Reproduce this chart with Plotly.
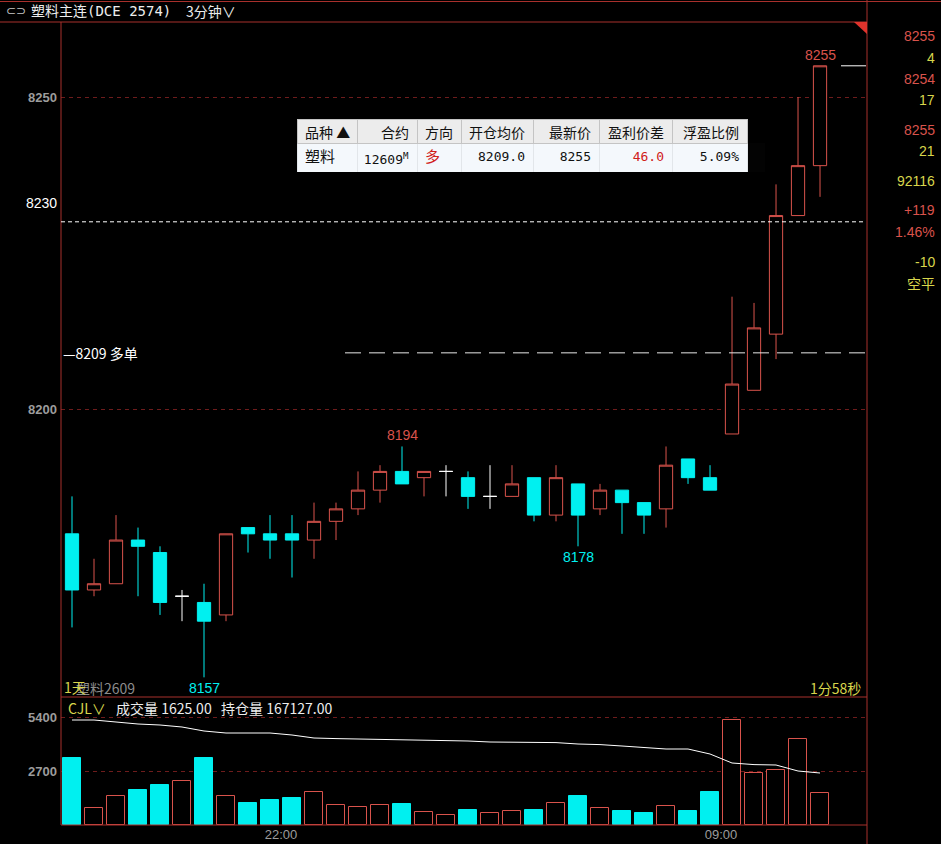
import plotly.graph_objects as go

W, H = 941, 844

# ---------------- data ----------------
bar_times = ["21:30", "21:33", "21:36", "21:39", "21:42", "21:45", "21:48", "21:51", "21:54", "21:57",
             "22:00", "22:03", "22:06", "22:09", "22:12", "22:15", "22:18", "22:21", "22:24", "22:27",
             "22:30", "22:33", "22:36", "22:39", "22:42", "22:45", "22:48", "22:51", "22:54", "22:57",
             "09:00", "09:03", "09:06", "09:09", "09:12"]
open_ = [8180, 8171, 8172, 8179, 8177, 8170, 8169, 8167, 8181, 8180, 8180, 8179, 8182, 8184, 8187,
         8190, 8189, 8190, 8189, 8186, 8186, 8189, 8183, 8188, 8184, 8187, 8185, 8184, 8192, 8189,
         8196, 8203, 8212, 8231, 8239]
high = [8186, 8176, 8183, 8181, 8178, 8171, 8172, 8180, 8181, 8183, 8183, 8185, 8185, 8190, 8191,
        8194, 8190, 8191, 8190, 8191, 8191, 8189, 8191, 8188, 8188, 8187, 8185, 8194, 8192, 8191,
        8218, 8217, 8236, 8250, 8255]
low = [8165, 8170, 8172, 8170, 8167, 8166, 8157, 8166, 8177, 8176, 8173, 8176, 8179, 8183, 8185,
       8188, 8186, 8186, 8184, 8184, 8186, 8182, 8182, 8178, 8183, 8180, 8180, 8181, 8188, 8187,
       8196, 8203, 8208, 8231, 8234]
close = [8171, 8172, 8179, 8178, 8169, 8170, 8166, 8180, 8180, 8179, 8179, 8182, 8184, 8187, 8190,
         8188, 8190, 8190, 8186, 8186, 8188, 8183, 8189, 8183, 8187, 8185, 8183, 8191, 8189, 8187,
         8204, 8213, 8231, 8239, 8255]
volume = [3350, 830, 1430, 1750, 2000, 2200, 3350, 1430, 1100, 1250, 1350, 1630, 980, 900, 980,
          1050, 630, 480, 750, 580, 680, 750, 1080, 1450, 830, 700, 600, 930, 700, 1650,
          5230, 2580, 2750, 4280, 1625]
volume_ma = [5250, 5250, 5150, 5050, 5000, 4900, 4700, 4600, 4600, 4600, 4500, 4350, 4320, 4300, 4300,
             4270, 4250, 4220, 4200, 4150, 4150, 4150, 4120, 4050, 4020, 3950, 3870, 3800, 3800, 3550,
             3100, 3020, 3000, 2700, 2600]
time_labels = ["22:00", "09:00"]
price_ticks = [8200, 8250]
volume_ticks = [2700, 5400]
drawn_line_price = 8230
open_avg_price = 8209
open_interest = 167127.00

table_header = ["品种\u00a0▲", "合约", "方向", "开仓均价", "最新价", "盈利价差", "浮盈比例"]
table_row = ["塑料", "12609<sup>M</sup>", "多", "8209.0", "8255", "46.0", "5.09%"]

side_values = ["8255", "4", "8254", "17", "8255", "21", "92116", "+119", "1.46%", "-10", "空平"]
side_kinds = ["r", "y", "r", "y", "r", "y", "y", "r", "r", "y", "y"]

# ---------------- styling ----------------
RED = "#d9534c"
CYAN = "#00f0f0"
YEL = "#d8d64c"
GRID = "#6e1c1c"
FRAME = "#a8302c"
GRAY = "#9c9c9c"
CJK = "Noto Sans CJK SC"
SANS = "Liberation Sans"
MONO = "DejaVu Sans Mono, Noto Sans CJK SC"


def fx(px):
    return px / W


def fy(py):
    return 1 - py / H


idx = list(range(len(close)))
x_range = [-0.5, 36.09]

fig = go.Figure()

# candles (non-doji)
nd = [i for i in idx if close[i] != open_[i]]
dj = [i for i in idx if close[i] == open_[i]]
fig.add_trace(go.Candlestick(
    x=nd, open=[open_[i] for i in nd], high=[high[i] for i in nd],
    low=[low[i] for i in nd], close=[close[i] for i in nd],
    increasing=dict(line=dict(color=RED, width=1), fillcolor="#000000"),
    decreasing=dict(line=dict(color=CYAN, width=1), fillcolor=CYAN),
    whiskerwidth=0, xaxis="x", yaxis="y", hoverinfo="skip", showlegend=False))
fig.add_trace(go.Candlestick(
    x=dj, open=[open_[i] for i in dj], high=[high[i] for i in dj],
    low=[low[i] for i in dj], close=[close[i] for i in dj],
    increasing=dict(line=dict(color="#ffffff", width=1), fillcolor="#ffffff"),
    decreasing=dict(line=dict(color="#ffffff", width=1), fillcolor="#ffffff"),
    whiskerwidth=0, xaxis="x", yaxis="y", hoverinfo="skip", showlegend=False))

# volume bars
vfill = [CYAN if close[i] < open_[i] else "#000000" for i in idx]
vline = [CYAN if close[i] < open_[i] else RED for i in idx]
fig.add_trace(go.Bar(x=idx, y=volume, width=0.85,
                     marker=dict(color=vfill, line=dict(color=vline, width=1)),
                     xaxis="x2", yaxis="y2", hoverinfo="skip", showlegend=False))
fig.add_trace(go.Scatter(x=idx, y=volume_ma, mode="lines", line=dict(color="#ffffff", width=1),
                         xaxis="x2", yaxis="y2", hoverinfo="skip", showlegend=False))

# table
fig.add_trace(go.Table(
    domain=dict(x=[fx(297), fx(747)], y=[fy(172), fy(119)]),
    columnwidth=[60, 60, 44, 72, 66, 73, 75],
    header=dict(values=table_header,
                align=["left", "right", "center", "right", "right", "right", "right"],
                fill_color="#ececec", line=dict(color="#c4c4c4", width=1),
                font=dict(color="#111111", size=14, family=CJK), height=24),
    cells=dict(values=[[v] for v in table_row],
               align=["left", "right", "left", "right", "right", "right", "right"],
               fill_color="#f4f8fc", line=dict(color="#e2e6ea", width=1),
               font=dict(color=["#111111", "#111111", "#d0201a", "#111111", "#111111", "#d0201a", "#111111"],
                         size=[15, 13, 15, 13, 13, 13, 13],
                         family=[CJK, MONO, CJK, MONO, MONO, MONO, MONO]), height=23),
))

tick_pos = [bar_times.index(t) - 0.5 for t in time_labels]

fig.update_layout(
    width=W, height=H, margin=dict(l=0, r=0, t=0, b=0),
    paper_bgcolor="#000000", plot_bgcolor="#000000",
    boxgap=0.14, boxmode="overlay", bargap=0,
    xaxis=dict(domain=[fx(61), fx(866)], range=x_range, anchor="y",
               showticklabels=False, showgrid=False, zeroline=False, showline=False,
               rangeslider=dict(visible=False), fixedrange=True),
    yaxis=dict(domain=[fy(697), fy(22)], range=[8153.85, 8262.02], anchor="x",
               tickvals=price_ticks, ticks="", ticklabelstandoff=3,
               tickfont=dict(color=GRAY, size=13, family=SANS, weight="bold"),
               showgrid=True, gridcolor=GRID, griddash="4px,4px", gridwidth=1,
               zeroline=False, showline=False, fixedrange=True),
    xaxis2=dict(domain=[fx(61), fx(866)], range=x_range, anchor="y2",
                tickvals=tick_pos, ticktext=time_labels, ticks="",
                tickfont=dict(color=GRAY, size=13, family=SANS),
                showgrid=False, zeroline=False, showline=False, fixedrange=True),
    yaxis2=dict(domain=[fy(825), fy(697)], range=[0, 6400], anchor="x2",
                tickvals=volume_ticks, ticks="", ticklabelstandoff=3,
                tickfont=dict(color=GRAY, size=13, family=SANS, weight="bold"),
                showgrid=True, gridcolor=GRID, griddash="4px,4px", gridwidth=1,
                zeroline=False, showline=False, fixedrange=True),
)

shapes = []
# frame lines
for (x0, y0, x1, y1) in [(0, 1.5, W, 1.5), (0, 22, 867, 22), (61, 22, 61, 825),
                         (867, 0, 867, H), (61, 697, 867, 697), (61, 825, 867, 825)]:
    shapes.append(dict(type="line", xref="paper", yref="paper", x0=fx(x0), y0=fy(y0),
                       x1=fx(x1), y1=fy(y1), line=dict(color=FRAME, width=1)))
# corner triangle
shapes.append(dict(type="path", xref="paper", yref="paper",
                   path=f"M {fx(854)},{fy(22)} L {fx(867)},{fy(22)} L {fx(867)},{fy(34)} Z",
                   fillcolor="#e0332c", line=dict(width=0)))
# drawn line at 8230
shapes.append(dict(type="line", xref="paper", yref="y", x0=fx(61), x1=fx(866),
                   y0=drawn_line_price, y1=drawn_line_price,
                   line=dict(color="#ffffff", width=1, dash="4px,3px")))
# open average line
shapes.append(dict(type="line", xref="paper", yref="y", x0=fx(345), x1=fx(866),
                   y0=open_avg_price, y1=open_avg_price,
                   line=dict(color="#e8e8e8", width=1, dash="16px,8px")))
# last price marker
shapes.append(dict(type="line", xref="paper", yref="y", x0=fx(841), x1=fx(866),
                   y0=close[-1], y1=close[-1], line=dict(color="#ffffff", width=1)))
fig.update_layout(shapes=shapes)

ann = []


def text(x, y, s, color, size=14, family=CJK, xanchor="left", yanchor="middle", **kw):
    ann.append(dict(xref="paper", yref="paper", x=fx(x), y=fy(y), text=s, showarrow=False,
                    xanchor=xanchor, yanchor=yanchor,
                    font=dict(color=color, size=size, family=family), **kw))


# header
text(4, 11, "⊂⊃", "#c8c8c8", size=12, family="DejaVu Sans")
text(29, 11, "塑料主连(DCE 2574)", "#ededed", size=14, family=MONO)
text(184, 11, "3分钟∨", "#ededed", size=14, family=CJK)

# left labels
ann.append(dict(xref="paper", yref="y", x=fx(59), y=drawn_line_price, yshift=19, text=str(drawn_line_price),
                showarrow=False, xanchor="right", yanchor="middle",
                font=dict(color="#ffffff", size=14, family=SANS)))
ann.append(dict(xref="paper", yref="y", x=fx(61), y=open_avg_price, text=f"—{open_avg_price} 多单",
                showarrow=False, xanchor="left", yanchor="middle",
                font=dict(color="#ffffff", size=14, family=CJK)))


# extreme labels
def mark(i, value, above, color):
    ann.append(dict(xref="x", yref="y", x=i, y=value, text=str(value), showarrow=False,
                    xanchor="center", yanchor="middle", yshift=11 if above else -11,
                    font=dict(color=color, size=14, family=SANS)))


imax = high.index(max(high))
imin = low.index(min(low))
mark(imax, high[imax], True, RED)
mark(imin, low[imin], False, CYAN)
i194 = high.index(8194)
mark(i194, high[i194], True, RED)
night_lows = low[13:30]
i178 = 13 + night_lows.index(min(night_lows))
mark(i178, low[i178], False, CYAN)

# bottom-of-chart labels
text(74, 688, "塑料2609", "#8c8c8c", size=14)
text(62, 687, "1天", YEL, size=14)
text(863, 688, "1分58秒", YEL, size=14, xanchor="right")

# volume header
text(66, 708, "CJL∨", YEL, size=14)
text(114, 708, f"成交量 {volume[-1]:.2f}   持仓量 {open_interest:.2f}", "#ededed", size=14)

# right panel
side_y = [36, 58, 79, 100, 130, 151, 181, 210, 232, 262, 283]
for v, k, yy in zip(side_values, side_kinds, side_y):
    text(937, yy, v, RED if k == "r" else YEL, size=14,
         family=CJK if v == "空平" else SANS, xanchor="right")

fig.update_layout(annotations=ann)

fig.write_html("out.html", config={"displayModeBar": False},
               post_script="document.body.style.margin='0';document.body.style.overflow='hidden';")
